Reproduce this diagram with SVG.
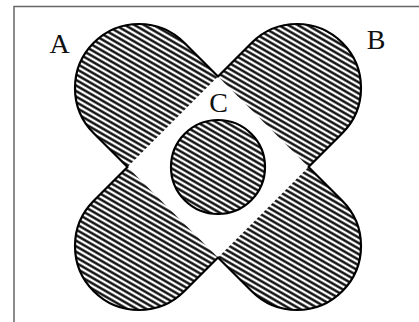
<svg xmlns="http://www.w3.org/2000/svg" width="419" height="322" viewBox="0 0 419 322">
  <defs>
    <pattern id="hatch" patternUnits="userSpaceOnUse" width="10" height="4.8" patternTransform="rotate(30)">
      <rect width="10" height="4.8" fill="#fff"/>
      <line x1="0" y1="2.4" x2="10" y2="2.4" stroke="#000" stroke-width="2.3"/>
    </pattern>
  </defs>
  <style>
    .frame { stroke: #666; stroke-width: 1.5; fill: none; }
    .outline { fill: none; stroke: #000; stroke-width: 2.2; stroke-linejoin: round; }
    .hatched { fill: url(#hatch); }
    .label { font-family: "Liberation Serif", "Times New Roman", serif; font-size: 28px; fill: #111; text-anchor: middle; }
  </style>
  <rect width="419" height="322" fill="#fff"/>
  <path class="frame" d="M14,322 V6.5 H419"/>
  <g id="setAB">
    <path id="unionAB" class="hatched" d="M184.25,42.75 L218,76.5 L251.75,42.75 A64,64 0 0 1 342.25,42.75 A64,64 0 0 1 342.25,133.25 L308.5,167 L342.25,200.75 A64,64 0 0 1 342.25,291.25 A64,64 0 0 1 251.75,291.25 L218,257.5 L184.25,291.25 A64,64 0 0 1 93.75,291.25 A64,64 0 0 1 93.75,200.75 L127.5,167 L93.75,133.25 A64,64 0 0 1 93.75,42.75 A64,64 0 0 1 184.25,42.75 Z"/>
    <polygon id="intersectionAB" points="218,76.5 308.5,167 218,257.5 127.5,167" fill="#fff"/>
    <path class="outline" d="M184.25,42.75 L218,76.5 L251.75,42.75 A64,64 0 0 1 342.25,42.75 A64,64 0 0 1 342.25,133.25 L308.5,167 L342.25,200.75 A64,64 0 0 1 342.25,291.25 A64,64 0 0 1 251.75,291.25 L218,257.5 L184.25,291.25 A64,64 0 0 1 93.75,291.25 A64,64 0 0 1 93.75,200.75 L127.5,167 L93.75,133.25 A64,64 0 0 1 93.75,42.75 A64,64 0 0 1 184.25,42.75 Z"/>
  </g>
  <g id="setC">
    <circle cx="218" cy="167" r="47" class="hatched"/>
    <circle cx="218" cy="167" r="47" class="outline"/>
  </g>
  <g id="labels">
    <text class="label" x="59.5" y="53">A</text>
    <text class="label" x="376" y="49">B</text>
    <text class="label" x="218.5" y="112">C</text>
  </g>
</svg>
